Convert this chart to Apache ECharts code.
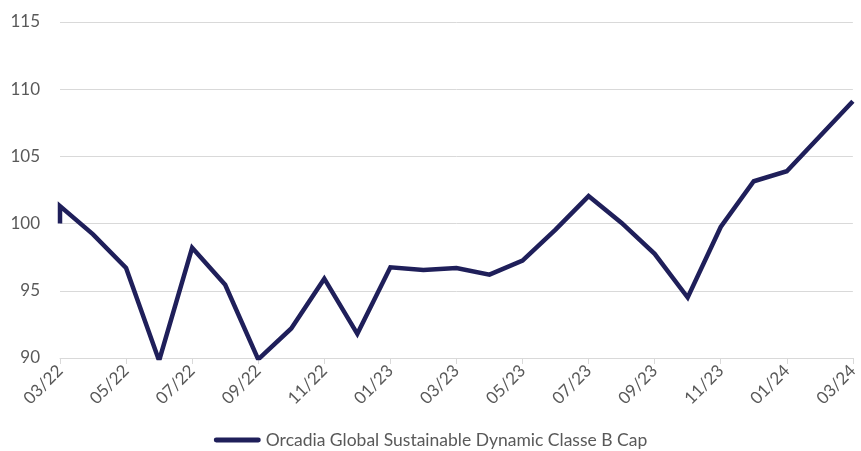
<!DOCTYPE html>
<html><head><meta charset="utf-8">
<script src="https://cdn.jsdelivr.net/npm/echarts@6/dist/echarts.min.js"></script>
<style>html,body{margin:0;padding:0;background:#fff}#c{width:861px;height:451px}</style>
</head><body><div id="c"></div>
<script>
const months = ['03/22','04/22','05/22','06/22','07/22','08/22','09/22','10/22','11/22','12/22',
  '01/23','02/23','03/23','04/23','05/23','06/23','07/23','08/23','09/23','10/23','11/23','12/23',
  '01/24','02/24','03/24'];
const startValue = 100;
const values = [101.3,99.2,96.7,89.8,98.2,95.45,89.9,92.2,95.9,91.8,
  96.75,96.55,96.7,96.2,97.25,99.55,102.05,100.05,97.75,94.5,99.75,103.15,
  103.9,106.5,109.1];
const seriesName = 'Orcadia Global Sustainable Dynamic Classe B Cap';
const yTicks = [90,95,100,105,110,115];

const data = [[0, startValue]].concat(values.map((v,i)=>[i,v]));
const chart = echarts.init(document.getElementById('c'));
const font = 'Lato, "Open Sans", sans-serif';
chart.setOption({
  animation:false,
  grid:{left:60,right:5,top:22,bottom:93,containLabel:false},
  legend:{top:426,left:'center',itemWidth:47,itemHeight:5,itemGap:4,padding:5,
    textStyle:{fontSize:17.5,color:'#595959',fontFamily:font},
    data:[{name:seriesName,icon:'path://M2,0L45,0A2.5,2.5,0,0,1,45,5L2,5A2.5,2.5,0,0,1,2,0Z'}]},
  xAxis:{type:'value',min:0,max:months.length-1,interval:2,
    axisLine:{show:true,lineStyle:{color:'#d9d9d9',width:1}},
    axisTick:{show:true,length:6,lineStyle:{color:'#d9d9d9'}},
    splitLine:{show:false},
    axisLabel:{rotate:45,fontSize:17,color:'#595959',fontFamily:font,margin:10,
      formatter:v=>months[v]||''}},
  yAxis:{type:'value',min:yTicks[0],max:yTicks[yTicks.length-1],interval:5,
    axisLine:{show:false},axisTick:{show:false},
    splitLine:{lineStyle:{color:'#d9d9d9',width:1}},
    axisLabel:{fontSize:17,color:'#595959',fontFamily:font,margin:20}},
  series:[{name:seriesName,type:'line',data:data,symbol:'none',clip:true,
    lineStyle:{color:'#1f1f5a',width:4.5,join:'miter'},itemStyle:{color:'#1f1f5a'}}]
});
</script></body></html>
